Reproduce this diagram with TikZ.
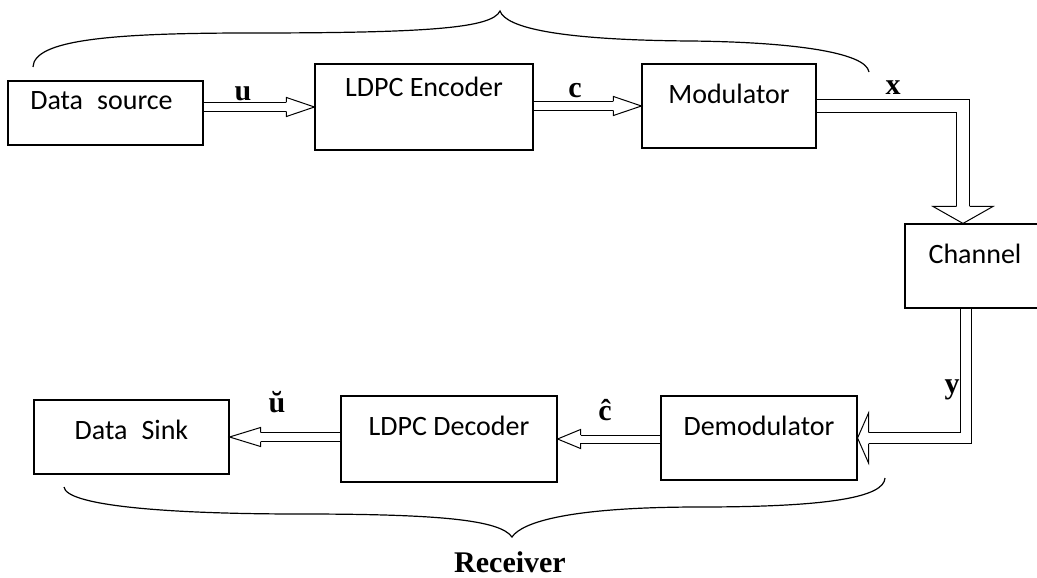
\documentclass[tikz,border=0pt]{standalone}
\usepackage{fontspec}
\setmainfont{Carlito}
\newfontfamily\lblfont{Liberation Serif}
\usepackage{tkz-euclide}

\begin{document}
\begin{tikzpicture}[x=1pt,y=-1pt]
\tikzset{
box/.style 2 args={draw, line width=1.1pt, inner xsep=0pt, inner ysep=0pt,
  text height=#1pt, text depth=#2pt, font=\fontsize{28}{32}\selectfont},
shaft/.style={draw=black, double=white, line width=1pt, double distance=#1, line join=miter},
lbl/.style={anchor=base, inner sep=0pt, font=\fontsize{30}{34}\selectfont\lblfont\bfseries},
brace/.style={line width=1.2pt},
pics/head/.style n args={3}{code={
  \draw[line width=1pt, line join=miter] (-#1,#3) -- (-#1,#2) -- (0,0) -- (-#1,-#2) -- (-#1,-#3);}}
}
\clip (0,0) rectangle (1037,578);
\tkzDefPoints{33/67/A,250/33/B,500/11/C,690/41/D,869/72/E}
\tkzDefPoints{64/487/P,300/514/Q,512/537/R,700/507/S,885/478/T}

\node[box={29}{35}, minimum width=195pt] (src) at (105.5,113) {\hspace{-8pt}Data\hspace{14pt}source};
\node[box={33}{53}, minimum width=218pt] (enc) at (424,107) {LDPC Encoder};
\node[box={39}{45}, minimum width=174pt] (mod) at (729,106) {Modulator};
\node[box={39}{45}, minimum width=140pt] (chan) at (975,266) {Channel};
\node[box={39}{45}, minimum width=196pt] (demod) at (759,438) {Demodulator};
\node[box={39}{47}, minimum width=216pt] (dec) at (449,439) {LDPC Decoder};
\node[box={39}{35}, minimum width=195pt] (sink) at (131.5,437) {Data\hspace{14pt}Sink};

% transmitter side
\draw[shaft=8pt, shorten >=28pt] (src.east |- enc.west) -- (enc.west);
\pic at (enc.west) {head={28}{9.5}{4.5}};
\draw[shaft=8pt, shorten >=28pt] (enc.east |- mod.west) -- (mod.west);
\pic at (mod.west) {head={28}{9.5}{4.5}};
\coordinate (xin) at ([xshift=-12pt]chan.north);
\draw[shaft=12pt, shorten >=17pt] (mod.east) -| (xin);
\pic[rotate=-90] at (xin) {head={17}{30}{6.5}};

% receiver side
\coordinate (yout) at ([xshift=-9pt]chan.south);
\draw[shaft=10pt, shorten >=11pt] (yout) |- (demod.east);
\pic[rotate=180] at (demod.east) {head={11}{25}{5.5}};
\draw[shaft=7pt, shorten >=23pt] (demod.west |- dec.east) -- (dec.east);
\pic[rotate=180] at (dec.east) {head={23}{9.5}{4}};
\draw[shaft=8pt, shorten >=31pt] (dec.west |- sink.east) -- (sink.east);
\pic[rotate=180] at (sink.east) {head={31}{9.5}{4.5}};

\node[lbl] (lu) at (243,101) {u};
\node[lbl] (lc) at (575,98) {c};
\node[lbl] (lx) at (893,95) {x};
\node[lbl] (ly) at (952,393) {y};
\node[lbl] (lch) at (605,420) {ĉ};
\node[lbl] (lub) at (277,412) {ŭ};

% braces
\draw[brace] (A) .. controls (34,40) and (110,33) .. (B)
  .. controls (430,33) and (492,28) .. (C)
  .. controls (506,28) and (560,40) .. (D)
  .. controls (790,42) and (866,52) .. (E);
\draw[brace] (P) .. controls (66,505) and (160,514) .. (Q)
  .. controls (440,514) and (500,520) .. (R)
  .. controls (522,522) and (570,507) .. (S)
  .. controls (830,507) and (884,497) .. (T);
\node[lbl] (rx) at (510,572) {Receiver};
\end{tikzpicture}
\end{document}
